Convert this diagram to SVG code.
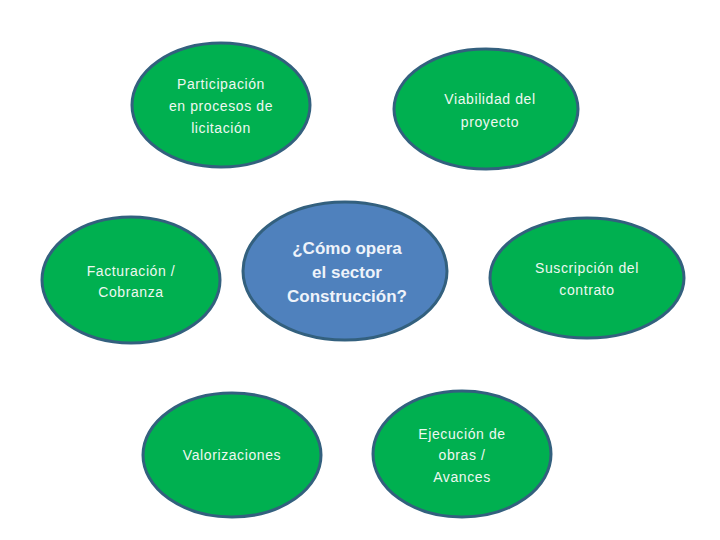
<svg xmlns="http://www.w3.org/2000/svg" width="720" height="540" viewBox="0 0 720 540">
<style>
.g{fill:#00b050;stroke:#33607e;stroke-width:3}
.b{fill:#4f81bd;stroke:#33607e;stroke-width:3}
.t{font-family:"Liberation Sans","Open Sans",sans-serif;font-size:14px;fill:#eef8f0;text-anchor:middle;letter-spacing:0.6px}
.c{font-family:"Liberation Sans","Open Sans",sans-serif;font-size:17px;font-weight:bold;fill:#eef3fa;text-anchor:middle}
</style>
<rect width="720" height="540" fill="#ffffff"/>
<g id="connectors"></g>
<g id="participacion">
<ellipse class="g" cx="221" cy="105" rx="89" ry="62"/>
<text class="t" x="221" y="89">Participación</text>
<text class="t" x="221" y="111">en procesos de</text>
<text class="t" x="221" y="133">licitación</text>
</g>
<g id="viabilidad">
<ellipse class="g" cx="486" cy="109" rx="92" ry="60"/>
<text class="t" x="490" y="104">Viabilidad del</text>
<text class="t" x="490" y="127">proyecto</text>
</g>
<g id="facturacion">
<ellipse class="g" cx="131" cy="280" rx="89" ry="63"/>
<text class="t" x="131" y="276">Facturación /</text>
<text class="t" x="131" y="297">Cobranza</text>
</g>
<g id="central">
<ellipse class="b" cx="345" cy="271" rx="102" ry="69"/>
<text class="c" x="347" y="254">¿Cómo opera</text>
<text class="c" x="347" y="278">el sector</text>
<text class="c" x="347" y="302">Construcción?</text>
</g>
<g id="suscripcion">
<ellipse class="g" cx="587" cy="278" rx="97" ry="60"/>
<text class="t" x="587" y="273">Suscripción del</text>
<text class="t" x="587" y="295">contrato</text>
</g>
<g id="valorizaciones">
<ellipse class="g" cx="232" cy="455" rx="89" ry="62"/>
<text class="t" x="232" y="460">Valorizaciones</text>
</g>
<g id="ejecucion">
<ellipse class="g" cx="462" cy="454" rx="89" ry="63"/>
<text class="t" x="462" y="439">Ejecución de</text>
<text class="t" x="462" y="460">obras /</text>
<text class="t" x="462" y="482">Avances</text>
</g>
</svg>
